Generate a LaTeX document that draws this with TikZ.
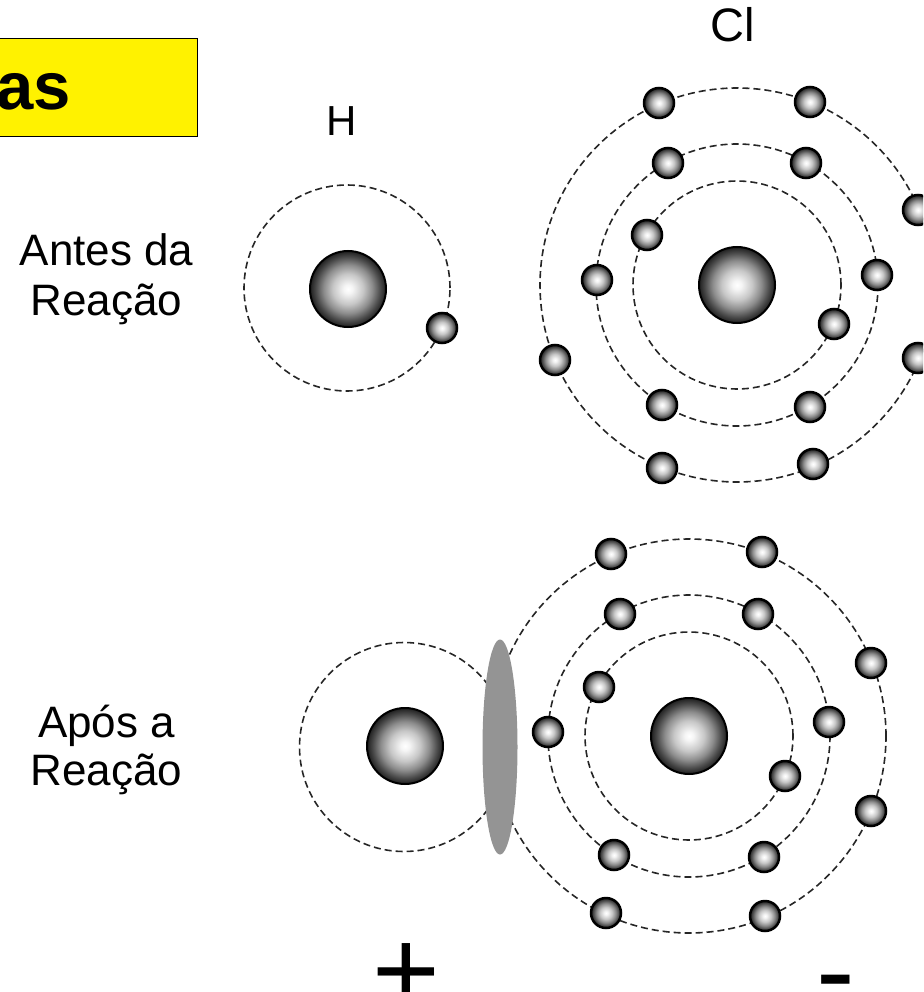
\documentclass[tikz,border=0pt]{standalone}
\usepackage{fontspec}
\setmainfont{Liberation Sans}
\usetikzlibrary{shapes.geometric}
% centred highlight for nuclei and electrons (25bp = rim of the shape)
\pgfdeclareradialshading{sphere}{\pgfpoint{0bp}{0bp}}{color(0bp)=(white); color(3bp)=(white!96!black); color(10bp)=(black!22); color(16bp)=(black!45); color(21bp)=(black!70); color(25bp)=(black!88); color(50bp)=(black!88)}
\begin{document}
\begin{tikzpicture}[x=1pt,y=-1pt,
  orbit/.style={draw=black!85, line width=1.6pt, dash pattern=on 7pt off 4pt},
  electron/.style={circle, minimum size=30pt, inner sep=0pt, draw=black, line width=2.5pt, shade, shading=sphere},
  nucleus/.style={circle, minimum size=76pt, inner sep=0pt, draw=black, line width=2pt, shade, shading=sphere},
  txt/.style={font=\fontsize{44}{48}\selectfont, anchor=base, inner sep=0pt},
  sym/.style={font=\fontsize{42}{46}\selectfont, anchor=base, inner sep=0pt},
  sign/.style={font=\fontsize{116}{120}\selectfont, anchor=base, inner sep=0pt},
  ]
\useasboundingbox (0,0) rectangle (923,992);
\clip (0,0) rectangle (923,992);

% title box
\node[draw=black, line width=1.5pt, fill=yellow, minimum width=220pt, minimum height=98pt, anchor=north east, inner sep=0pt] (title) at (198,38) {};
\node[font=\bfseries\fontsize{67}{70}\selectfont, anchor=base west, inner sep=0pt] (titletext) at (-4,110) {as};

% captions
\node[sym] (lblH) at (342,136) {H};
\node[sym, font=\fontsize{47}{50}\selectfont] (lblCl) at (733,42) {Cl};
\node[txt] (antes1) at (106.5,265) {Antes da};
\node[txt] (antes2) at (106.5,315) {Reação};
\node[txt] (apos1) at (106.5,737) {Após a};
\node[txt] (apos2) at (106.5,785) {Reação};
\node[sign] (plus) at (406,1010) {+};
\node[sign] (minus) at (836,1010) {-};

% ---------- before the reaction ----------
\node[nucleus] (hT) at (348,289) {};
\node[nucleus] (clT) at (737,285) {};
\coordinate (hTo) at (347,288);
\draw[orbit] (hTo) circle (103pt);
\draw[orbit] (clT.center) circle (104pt);
\draw[orbit] (clT.center) circle (141pt);
\draw[orbit] (clT.center) circle (197pt);

\node[electron] (eH) at (442,328) {};
% inner shell
\node[electron] (t1) at (647,235) {};
\node[electron] (t2) at (834,324) {};
% middle shell
\node[electron] (t3) at (668,163) {};
\node[electron] (t4) at (806,163) {};
\node[electron] (t5) at (597,280) {};
\node[electron] (t6) at (877,275) {};
\node[electron] (t7) at (662,405) {};
\node[electron] (t8) at (810,407) {};
% outer shell
\node[electron] (t9) at (659,103) {};
\node[electron] (t10) at (810,102) {};
\node[electron] (t11) at (918,210) {};
\node[electron] (t12) at (555,360) {};
\node[electron] (t13) at (918,358) {};
\node[electron] (t14) at (662,468) {};
\node[electron] (t15) at (813,464) {};

% ---------- after the reaction ----------
\node[nucleus] (hB) at (405,746) {};
\node[nucleus] (clB) at (689,736) {};
\coordinate (hBo) at (404,747);
\draw[orbit] (hBo) circle (104.5pt);
\draw[orbit] (clB.center) circle (104pt);
\draw[orbit] (clB.center) circle (141pt);
\draw[orbit] (clB.center) circle (197pt);

% shared electron pair
\node[ellipse, fill=black!42, minimum width=35pt, minimum height=215pt, inner sep=0pt] (bond) at (500,747) {};

% inner shell
\node[electron] (b1) at (599,687) {};
\node[electron] (b2) at (785,776) {};
% middle shell
\node[electron] (b3) at (620,614) {};
\node[electron] (b4) at (758,614) {};
\node[electron] (b5) at (548,732) {};
\node[electron] (b6) at (829,722) {};
\node[electron] (b7) at (614,855) {};
\node[electron] (b8) at (764,857) {};
% outer shell
\node[electron] (b9) at (611,554) {};
\node[electron] (b10) at (762,552) {};
\node[electron] (b11) at (871,663) {};
\node[electron] (b12) at (871,811) {};
\node[electron] (b13) at (606,913) {};
\node[electron] (b14) at (765,916) {};
\end{tikzpicture}
\end{document}
